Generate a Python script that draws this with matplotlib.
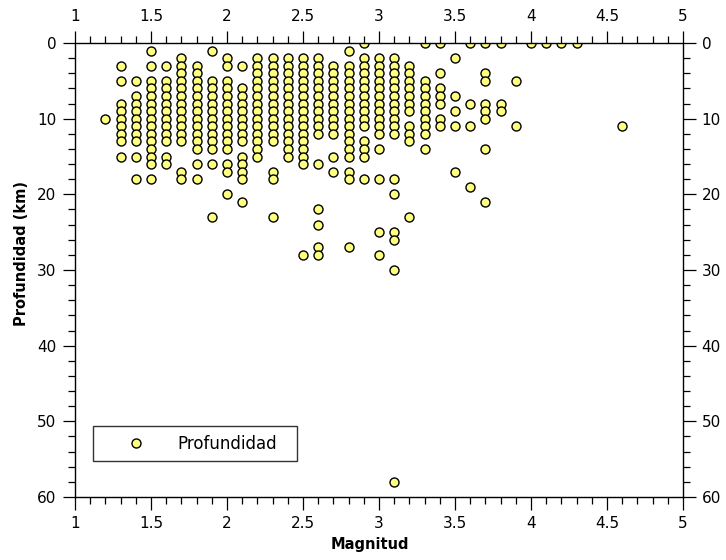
import matplotlib
matplotlib.use("Agg")
import matplotlib.pyplot as plt
from matplotlib.ticker import MultipleLocator

plt.rcParams['font.family'] = ['DejaVu Sans']

# Magnitude categories (x) and the depths (km) observed for each
magnitudes = [1.2, 1.3, 1.4, 1.5, 1.6, 1.7, 1.8, 1.9, 2.0, 2.1, 2.2, 2.3, 2.4,
              2.5, 2.6, 2.7, 2.8, 2.9, 3.0, 3.1, 3.2, 3.3, 3.4, 3.5, 3.6, 3.7,
              3.8, 3.9, 4.0, 4.1, 4.2, 4.3, 4.6]
depths = [
    [10],
    [3, 5, 8, 9, 10, 11, 12, 13, 15],
    [5, 7, 8, 9, 10, 11, 12, 13, 15, 18],
    [1, 3, 5, 6, 7, 8, 9, 10, 11, 12, 13, 14, 15, 16, 18],
    [3, 5, 6, 7, 8, 9, 10, 11, 12, 13, 15, 16],
    [2, 3, 4, 5, 6, 7, 8, 9, 10, 11, 12, 13, 17, 18],
    [3, 4, 5, 6, 7, 8, 9, 10, 11, 12, 13, 14, 16, 18],
    [1, 5, 6, 7, 8, 9, 10, 11, 12, 13, 14, 16, 23],
    [2, 3, 5, 6, 7, 8, 9, 10, 11, 12, 13, 14, 16, 17, 20],
    [3, 6, 7, 8, 9, 10, 11, 12, 13, 15, 16, 17, 18, 21],
    [2, 3, 4, 5, 6, 7, 8, 9, 10, 11, 12, 13, 14, 15],
    [2, 3, 4, 5, 6, 7, 8, 9, 10, 11, 12, 13, 17, 18, 23],
    [2, 3, 4, 5, 6, 7, 8, 9, 10, 11, 12, 13, 14, 15],
    [2, 3, 4, 5, 6, 7, 8, 9, 10, 11, 12, 13, 14, 15, 16, 28],
    [2, 3, 4, 5, 6, 7, 8, 9, 10, 11, 12, 16, 22, 24, 27, 28],
    [3, 4, 5, 6, 7, 8, 9, 10, 11, 12, 15, 17],
    [1, 3, 4, 5, 6, 7, 8, 9, 10, 11, 12, 13, 14, 15, 17, 18, 27],
    [0, 2, 3, 4, 5, 6, 7, 8, 9, 10, 11, 13, 14, 15, 18],
    [2, 3, 4, 5, 6, 7, 8, 9, 10, 11, 12, 14, 18, 25, 28],
    [2, 3, 4, 5, 6, 7, 8, 9, 10, 11, 12, 18, 20, 25, 26, 30, 58],
    [3, 4, 5, 6, 7, 8, 9, 11, 12, 13, 23],
    [0, 5, 6, 7, 8, 9, 10, 11, 12, 14],
    [0, 4, 6, 7, 8, 10, 11],
    [2, 7, 9, 11, 17],
    [0, 8, 11, 19],
    [0, 4, 5, 8, 9, 10, 14, 21],
    [0, 8, 9],
    [5, 11],
    [0],
    [0],
    [0],
    [0],
    [11],
]

x_ticks = [1, 1.5, 2, 2.5, 3, 3.5, 4, 4.5, 5]
x_tick_labels = ['1', '1.5', '2', '2.5', '3', '3.5', '4', '4.5', '5']
y_ticks = [0, 10, 20, 30, 40, 50, 60]
y_tick_labels = ['0', '10', '20', '30', '40', '50', '60']

xs, ys = [], []
for m, ds in zip(magnitudes, depths):
    for d in ds:
        xs.append(m)
        ys.append(d)

fig = plt.figure(figsize=(7.26, 5.6), dpi=100)
ax = fig.add_axes([75/726, 1-497/560, (683-75)/726, (497-43)/560])

ax.plot(xs, ys, linestyle='none', marker='o', markersize=6.5,
        markerfacecolor='#FFFF80', markeredgecolor='black',
        markeredgewidth=1.0, label='Profundidad', clip_on=True, zorder=3)

ax.set_xlim(1, 5)
ax.set_ylim(60, 0)
ax.set_xticks(x_ticks)
ax.set_xticklabels(x_tick_labels)
ax.set_yticks(y_ticks)
ax.set_yticklabels(y_tick_labels)
ax.xaxis.set_minor_locator(MultipleLocator(0.1))
ax.yaxis.set_minor_locator(MultipleLocator(2))

ax.tick_params(which='both', direction='out', top=True, right=True,
               labeltop=True, labelright=True, labelsize=11, width=0.9,
               colors='black')
ax.tick_params(which='major', length=9, pad=4.5)
ax.tick_params(which='minor', length=4.7)
for s in ax.spines.values():
    s.set_linewidth(1.0)
    s.set_zorder(4)

ax.set_xlabel('Magnitud', fontsize=10.5, fontweight='bold')
ax.xaxis.set_label_coords((370-75)/608, (497-537)/454)
ax.set_ylabel('Profundidad (km)', fontsize=10.5, fontweight='bold')
ax.yaxis.set_label_coords((29-75)/608, (497-253)/454)

leg = ax.legend(loc='lower left',
                bbox_to_anchor=(18/608, 36/454, 204/608, 37/454),
                mode='expand', frameon=True, fancybox=False,
                edgecolor='black', fontsize=12, borderpad=0.5,
                handlelength=4.1, handletextpad=0.45, borderaxespad=0,
                numpoints=1)
leg.get_frame().set_linewidth(1.0)

fig.savefig('out.png', dpi=100)
